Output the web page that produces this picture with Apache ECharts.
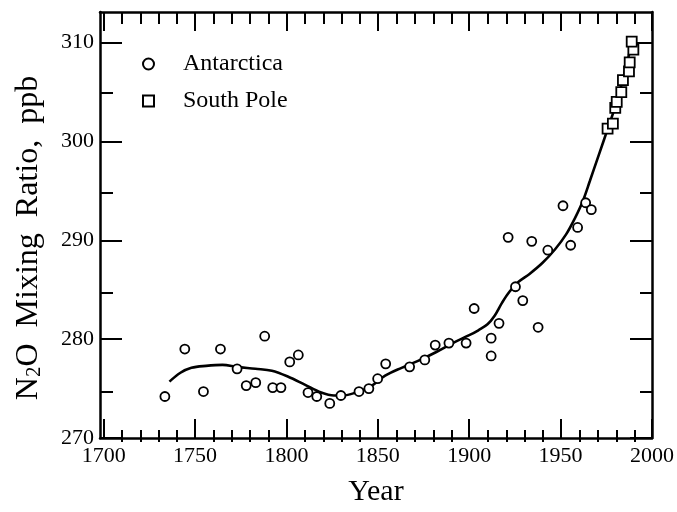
<!DOCTYPE html>
<html>
<head>
<meta charset="utf-8">
<script src="https://cdn.jsdelivr.net/npm/echarts@6/dist/echarts.min.js"></script>
<style>html,body{margin:0;padding:0;background:#fff}#c{width:677px;height:512px}</style>
</head>
<body>
<div id="c"></div>
<script>
// Antarctica ice-core samples: [year, N2O ppb]
const antarctica = [
  [1733.5,274.2],[1744.4,279.0],[1754.6,274.7],[1763.9,279.0],[1773.0,277.0],
  [1778.0,275.3],[1783.2,275.6],[1788.1,280.3],[1792.5,275.1],[1797.0,275.1],
  [1801.8,277.7],[1806.5,278.4],[1811.8,274.6],[1816.6,274.2],[1823.7,273.5],
  [1829.8,274.3],[1839.7,274.7],[1845.1,275.0],[1849.9,276.0],[1854.3,277.5],
  [1867.4,277.2],[1875.7,277.9],[1881.4,279.4],[1888.9,279.6],[1898.3,279.6],
  [1902.7,283.1],[1912.0,280.1],[1912.0,278.3],[1916.3,281.6],[1921.3,290.3],
  [1925.3,285.3],[1929.3,283.9],[1934.2,289.9],[1937.7,281.2],[1943.0,289.0],
  [1951.3,293.5],[1955.5,289.5],[1959.3,291.3],[1963.7,293.8],[1966.8,293.1]
];
// South Pole measurements
const southPole = [
  [1975.7,301.3],[1978.6,301.8],[1979.9,303.4],[1980.7,304.0],[1983.2,305.0],
  [1984.1,306.2],[1987.4,307.1],[1987.8,308.0],[1989.8,309.3],[1988.9,310.1]
];
// Smoothed fit curve
const fitCurve = [
  [1736,275.7],[1742,276.6],[1748,277.1],[1756,277.3],[1765,277.4],[1773,277.2],
  [1783,277.0],[1792,276.8],[1801,276.2],[1810,275.4],[1819,274.6],[1826,274.3],
  [1831,274.3],[1838,274.6],[1846,275.2],[1854,276.3],[1863,277.1],[1872,277.8],
  [1882,278.7],[1891,279.6],[1900,280.4],[1905,280.9],[1910,281.5],[1914,282.4],
  [1918,283.7],[1922,284.8],[1927,285.8],[1933,286.6],[1940,287.7],[1947,289.1],
  [1953,290.6],[1958,292.3],[1962,293.9],[1966,296.0],[1971,298.7],[1976,301.4],
  [1980,303.6],[1984,306.2],[1988,309.2],[1990,310.3]
];
const xMajorTicks = [1700,1750,1800,1850,1900,1950,2000];
const xMinorTicks = [1710,1720,1730,1740,1760,1770,1780,1790,1810,1820,1830,1840,
  1860,1870,1880,1890,1910,1920,1930,1940,1960,1970,1980,1990];
const yMajorTicks = [270,280,290,300,310];
const yMinorTicks = [275,285,295,305];

const SERIF = '"Liberation Serif","DejaVu Serif",serif';
const X_MIN = 1698, X_MAX = 2000, Y_MIN = 270, Y_MAX = 313.1;
const gridRect = {left:100, top:12, width:553, height:430};
const plain = v => String(v);

function xAx(gridIndex, position, ticks, len, showLine, labels) {
  return {
    type:'value', gridIndex, position, min:X_MIN, max:X_MAX,
    axisLine:{show:showLine, onZero:false, lineStyle:{color:'#000', width:2.5}},
    axisTick:{show:true, inside:true, length:len, customValues:ticks, lineStyle:{color:'#000', width:2}},
    axisLabel:{show:!!labels, customValues:ticks, formatter:plain, color:'#000', fontFamily:SERIF, fontSize:22, margin:7},
    splitLine:{show:false}
  };
}
function yAx(gridIndex, position, ticks, len, showLine, labels) {
  return {
    type:'value', gridIndex, position, min:Y_MIN, max:Y_MAX,
    axisLine:{show:showLine, onZero:false, lineStyle:{color:'#000', width:2.5}},
    axisTick:{show:true, inside:true, length:len, customValues:ticks, lineStyle:{color:'#000', width:2}},
    axisLabel:{show:!!labels, customValues:ticks, formatter:plain, color:'#000', fontFamily:SERIF, fontSize:22, margin:6},
    splitLine:{show:false}
  };
}

const xAxes = [
  xAx(0,'bottom',xMajorTicks,19,true,true),
  xAx(0,'top',xMajorTicks,19,true,false),
  xAx(1,'bottom',xMinorTicks,12,false,false),
  xAx(1,'top',xMinorTicks,12,false,false)
];
xAxes[0].name = 'Year';
xAxes[0].nameLocation = 'middle';
xAxes[0].nameGap = 39;
xAxes[0].nameTextStyle = {color:'#000', fontFamily:SERIF, fontSize:30};

const yAxes = [
  yAx(0,'left',yMajorTicks,22,true,true),
  yAx(0,'right',yMajorTicks,22,true,false),
  yAx(1,'left',yMinorTicks,13,false,false),
  yAx(1,'right',yMinorTicks,13,false,false)
];

const chart = echarts.init(document.getElementById('c'), null, {renderer:'canvas'});
chart.setOption({
  backgroundColor:'#fff',
  animation:false,
  grid:[Object.assign({}, gridRect), Object.assign({}, gridRect)],
  xAxis:xAxes,
  yAxis:yAxes,
  legend:{
    data:['Antarctica','South Pole'],
    orient:'vertical', left:137, top:47, itemGap:13,
    itemWidth:11, itemHeight:11,
    itemStyle:{opacity:1},
    textStyle:{color:'#000', fontFamily:SERIF, fontSize:24, padding:[0,0,0,24]}
  },
  graphic:[{
    type:'text', x:29, y:238, rotation:Math.PI/2,
    style:{
      text:'{a|N}{s|2}{a|O  Mixing  Ratio,  ppb}',
      align:'center', verticalAlign:'middle',
      rich:{
        a:{fontFamily:SERIF, fontSize:32, fill:'#000', color:'#000'},
        s:{fontFamily:SERIF, fontSize:21, fill:'#000', color:'#000', verticalAlign:'bottom'}
      }
    }
  }],
  series:[
    {type:'line', name:'fit', xAxisIndex:0, yAxisIndex:0, data:fitCurve, smooth:0.35,
     showSymbol:false, symbol:'none', lineStyle:{color:'#000', width:2.6}, z:2},
    {type:'scatter', name:'Antarctica', xAxisIndex:0, yAxisIndex:0, data:antarctica,
     symbol:'circle', symbolSize:9,
     itemStyle:{color:'#fff', borderColor:'#000', borderWidth:1.8, opacity:1}, z:3},
    {type:'scatter', name:'South Pole', xAxisIndex:0, yAxisIndex:0, data:southPole,
     symbol:'rect', symbolSize:10,
     itemStyle:{color:'#fff', borderColor:'#000', borderWidth:1.8, opacity:1}, z:4}
  ]
});
</script>
</body>
</html>
